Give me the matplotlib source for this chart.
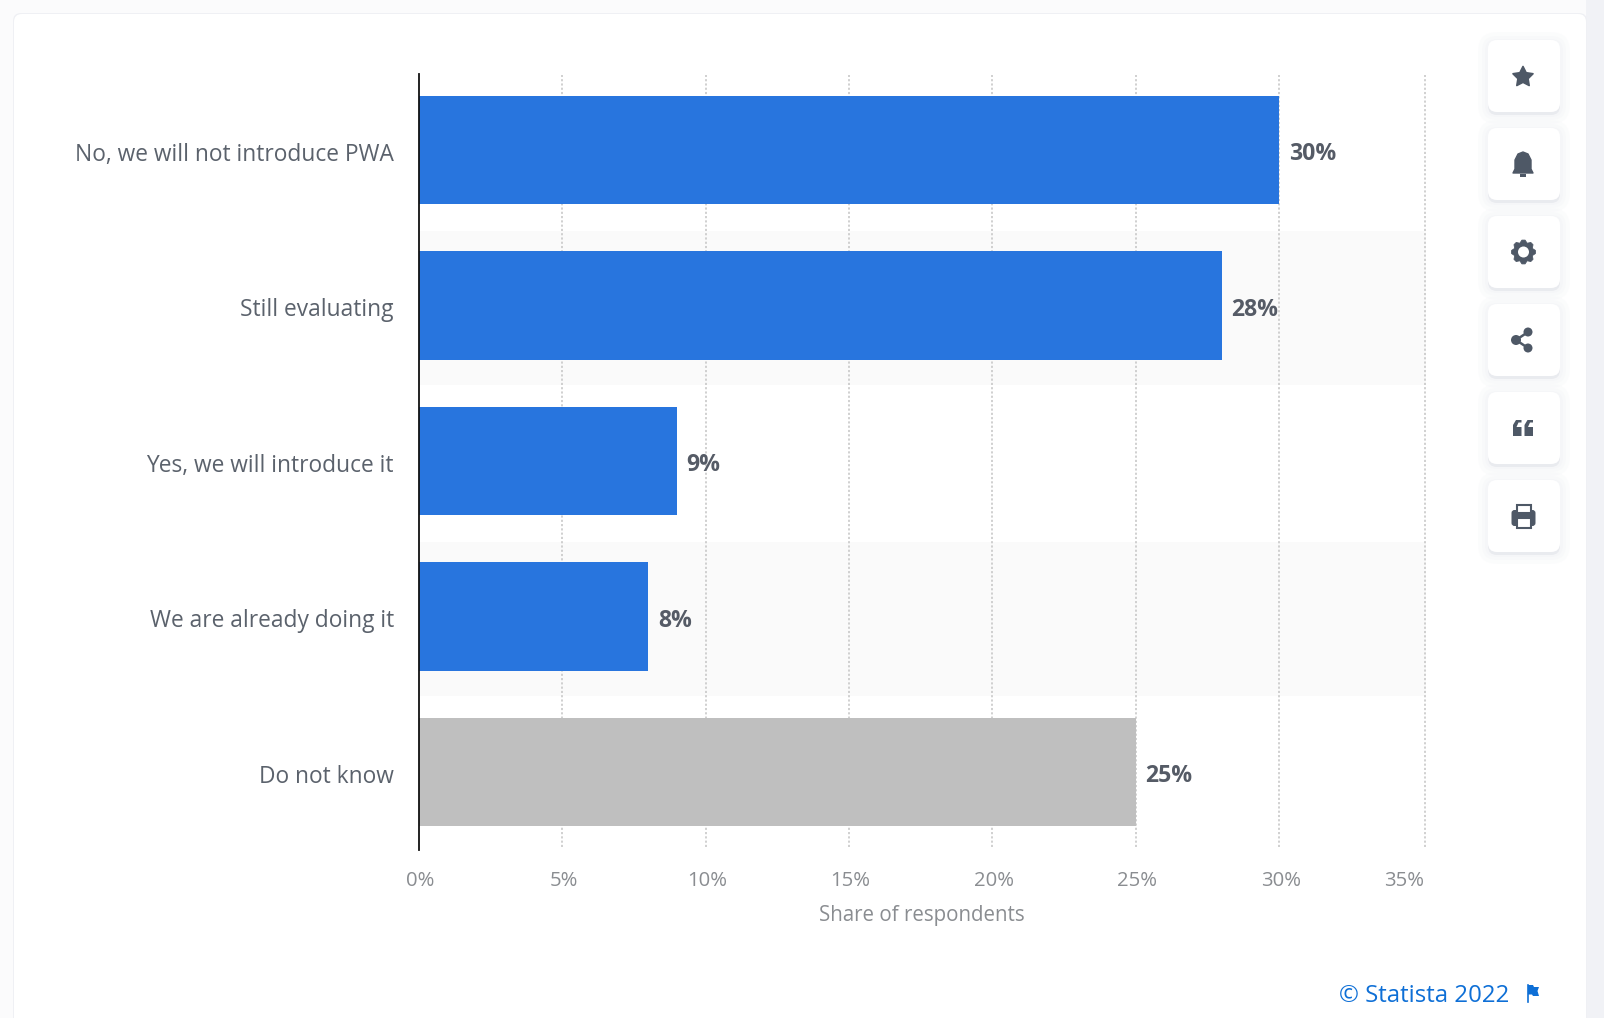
import math
import matplotlib
matplotlib.use("Agg")
import matplotlib.pyplot as plt
from matplotlib.patches import FancyBboxPatch, Circle, Rectangle, Polygon
from matplotlib.transforms import ScaledTranslation

# data
categories = ["No, we will not introduce PWA", "Still evaluating", "Yes, we will introduce it",
              "We are already doing it", "Do not know"]
values = [30, 28, 9, 8, 25]
bar_colors = ["#2875de", "#2875de", "#2875de", "#2875de", "#bfbfbf"]
x_ticks = [0, 5, 10, 15, 20, 25, 30, 35]
x_title = "Share of respondents"
credit = "© Statista 2022"

W, H = 1604, 1018
plt.rcParams["font.family"] = ["Open Sans", "DejaVu Sans"]

fig = plt.figure(figsize=(W / 100, H / 100), dpi=100, facecolor="#f1f2f6")

# page layer in pixel coordinates
bg = fig.add_axes([0, 0, 1, 1], zorder=0)
bg.set_xlim(0, W)
bg.set_ylim(H, 0)
bg.axis("off")
bg.add_patch(Rectangle((0, 0), 1586, H, fc="#fbfbfc", ec="none"))
bg.add_patch(FancyBboxPatch((21, 21), 1558, H + 40, boxstyle="round,pad=8,rounding_size=8",
                            fc="#eff0f4", ec="none"))
bg.add_patch(FancyBboxPatch((22, 22), 1556, H + 40, boxstyle="round,pad=8,rounding_size=8",
                            fc="white", ec="none"))

# chart
left, right, top, bottom = 418.8, 1425.5, 72.2, 849.8
xmax = 35.1
ax = fig.add_axes([left / W, 1 - bottom / H, (right - left) / W, (bottom - top) / H], zorder=1)
ax.patch.set_alpha(0)
y_pos = list(range(len(categories)))
ax.set_xlim(0, xmax)
ax.set_ylim(4.5, -0.5)
for i in [1, 3]:
    ax.axhspan(i - 0.48, i + 0.51, color="#fafafa", lw=0, zorder=0)
# the last grid line is on the plot edge, not quite at 35
for t in x_ticks[1:-1] + [xmax - 0.02]:
    ax.axvline(t, ymin=0.003, ymax=0.997, color="#c4c4c4", lw=1.1, ls=(0, (1.4, 1.4)), zorder=1)
ax.barh(y_pos, values, height=0.695, color=bar_colors, zorder=2)

for s in ["top", "right", "bottom"]:
    ax.spines[s].set_visible(False)
ax.spines["left"].set_color("#111111")
ax.spines["left"].set_linewidth(1.3)
ax.spines["left"].set_zorder(4)
ax.spines["left"].set_bounds(4.5, -0.488)
ax.tick_params(length=0)

ax.set_yticks(y_pos)
ax.set_yticklabels(categories, fontsize=16.35, color="#5b626c")
ax.tick_params(axis="y", pad=18)
down = ScaledTranslation(0, -1.3 / 72, fig.dpi_scale_trans)
for lab in ax.get_yticklabels():
    lab.set_transform(lab.get_transform() + down)

ax.set_xticks(x_ticks)
ax.set_xticklabels([f"{t}%" for t in x_ticks], fontsize=14.6, color="#8a8d91")
ax.tick_params(axis="x", pad=15)
nudge = ScaledTranslation(1.2 / 72, 0, fig.dpi_scale_trans)
for lab in ax.get_xticklabels():
    lab.set_transform(lab.get_transform() + nudge)
# last label sits inside the plot edge
ax.get_xticklabels()[-1].set_ha("right")
ax.set_xlabel(x_title, fontsize=14.8, color="#8a8d91", labelpad=10)

for y, v in zip(y_pos, values):
    ax.annotate(f"{v}%", (v, y), xytext=(7, -3), textcoords="offset points", va="center", ha="left",
                fontsize=16.6, fontweight="bold", color="#555b66", zorder=5)

# side buttons
icon = "#4e5866"
for y0 in [40, 128, 216, 304, 392, 480]:
    for grow, alpha in [(10, 0.25), (6, 0.35), (3, 0.5)]:
        bg.add_patch(FancyBboxPatch((1488 - grow, y0 + 2 - grow), 72 + 2 * grow, 72 + 2 * grow,
                                    boxstyle="round,pad=0,rounding_size=%d" % (9 + grow),
                                    fc="#f3f4f7", ec="none", alpha=alpha))
for y0 in [40, 128, 216, 304, 392, 480]:
    bg.add_patch(FancyBboxPatch((1488, y0 + 3), 72, 72, boxstyle="round,pad=0,rounding_size=9",
                                fc="#e9ebef", ec="none"))
    bg.add_patch(FancyBboxPatch((1488, y0), 72, 72, boxstyle="round,pad=0,rounding_size=9",
                                fc="white", ec="none"))
# star
star = []
for k in range(10):
    r = 10.5 if k % 2 == 0 else 5.3
    a = math.pi * k / 5
    star.append((1523 + r * math.sin(a), 77 - r * math.cos(a)))
bg.add_patch(Polygon(star, fc=icon, ec=icon, lw=1.2, joinstyle="round"))
# bell
bg.add_patch(Polygon([(1513, 173), (1515, 169), (1515, 160), (1518, 154), (1523, 152), (1528, 154),
                      (1531, 160), (1531, 169), (1533, 173)], fc=icon, ec=icon, lw=1, joinstyle="round"))
bg.add_patch(Rectangle((1520, 174), 6, 2.5, fc=icon, ec="none"))
# gear
gear = []
for k in range(24):
    r = 12 if k % 3 != 2 else 9.5
    a = 2 * math.pi * (k - 0.5) / 24
    gear.append((1523.5 + r * math.sin(a), 252 - r * math.cos(a)))
bg.add_patch(Polygon(gear, fc=icon, ec=icon, lw=0.6, joinstyle="round"))
bg.add_patch(Circle((1523.5, 252), 5.5, fc="white", ec="none"))
# share
bg.plot([1528, 1516, 1528], [332, 340, 348], color=icon, lw=1.8)
for cx, cy, r in [(1528, 332, 4.5), (1516, 340, 5), (1528, 348, 4.5)]:
    bg.add_patch(Circle((cx, cy), r, fc=icon, ec="none"))
# quote
for x0 in [1513, 1524.5]:
    bg.add_patch(Polygon([(x0, 436), (x0, 425), (x0 + 3, 420), (x0 + 8.5, 420), (x0 + 8.5, 422.5), (x0 + 5.5, 422.5),
                          (x0 + 3.5, 427), (x0 + 8.5, 427), (x0 + 8.5, 436)], fc=icon, ec="none"))
# printer
bg.add_patch(FancyBboxPatch((1511.5, 510), 24, 16, boxstyle="round,pad=0,rounding_size=3", fc=icon, ec="none"))
bg.add_patch(Rectangle((1516.5, 505), 14, 8, fc="white", ec=icon, lw=1.5))
bg.add_patch(Rectangle((1516.5, 518), 14, 9.5, fc="white", ec=icon, lw=1.5))

# credit
fig.text(1509 / W, 1 - 996 / H, credit, ha="right", va="center", fontsize=17.3, color="#0e6fd6")
bg.plot([1527.5, 1527.5], [985, 1002], color="#0e6fd6", lw=1.2)
bg.add_patch(Polygon([(1528, 985), (1533, 985), (1534, 987), (1539, 987), (1537.5, 991), (1539, 996),
                      (1533, 996), (1532, 994.5), (1528, 994.5)], fc="#0e6fd6", ec="none"))

fig.savefig("out.png", dpi=100, facecolor=fig.get_facecolor())
